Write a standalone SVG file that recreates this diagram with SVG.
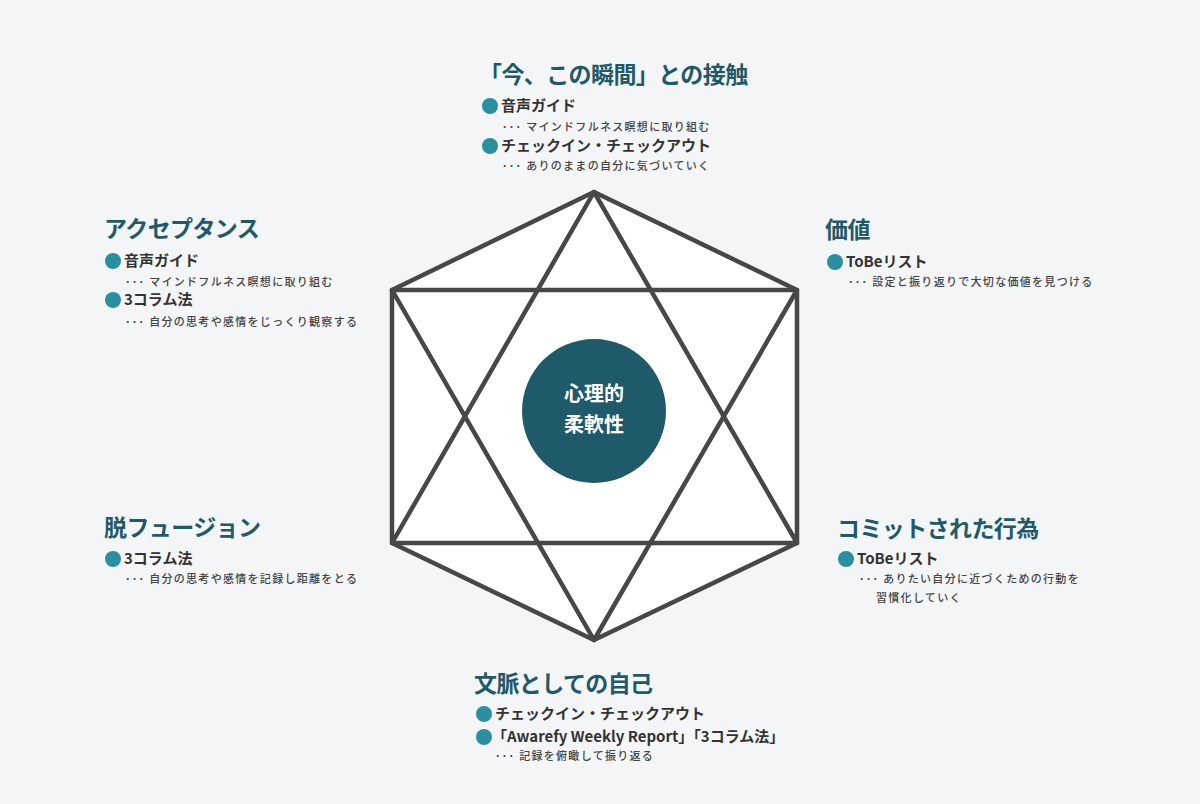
<svg xmlns="http://www.w3.org/2000/svg" width="1200" height="804" viewBox="0 0 1200 804">
<style>
text{font-family:"Noto Sans CJK JP","Noto Sans",sans-serif}
.t{font-size:23px;font-weight:700;fill:#1f5a6b;letter-spacing:-0.6px}
.i{font-size:15px;font-weight:700;fill:#333}
.s{font-size:11px;font-weight:500;fill:#444;letter-spacing:1.3px}
.b{fill:#2a8fa0}
.ln{fill:none;stroke:#474747;stroke-width:4.5;stroke-linejoin:round}
</style>
<rect width="1200" height="804" fill="#f3f5f7"/>
<g id="connectors">
<polygon class="ln" points="594,192 797,290 797,543 594,640 392,543 392,290" style="fill:#fff"/>
<polygon class="ln" points="594,192 797,543 392,543"/>
<polygon class="ln" points="594,640 392,290 797,290"/>
</g>
<g id="center"><circle cx="594" cy="411" r="72" fill="#1f5a6b"/>
<text x="594" y="401" text-anchor="middle" font-size="20" font-weight="700" fill="#fff">心理的</text>
<text x="594" y="432" text-anchor="middle" font-size="20" font-weight="700" fill="#fff">柔軟性</text></g>
<g id="now">
<text class="t" x="479" y="83">「今、この瞬間」との接触</text>
<circle class="b" cx="490" cy="106" r="8"/><text class="i" x="501" y="111">音声ガイド</text>
<text class="s" x="502" y="131">･･･ マインドフルネス瞑想に取り組む</text>
<circle class="b" cx="490" cy="146" r="8"/><text class="i" x="501" y="151">チェックイン・チェックアウト</text>
<text class="s" x="502" y="170">･･･ ありのままの自分に気づいていく</text>
</g>
<g id="acceptance">
<text class="t" x="104" y="237">アクセプタンス</text>
<circle class="b" cx="113" cy="261" r="8"/><text class="i" x="124" y="266">音声ガイド</text>
<text class="s" x="125" y="286">･･･ マインドフルネス瞑想に取り組む</text>
<circle class="b" cx="113" cy="300" r="8"/><text class="i" x="124" y="305">3コラム法</text>
<text class="s" x="125" y="326">･･･ 自分の思考や感情をじっくり観察する</text>
</g>
<g id="value">
<text class="t" x="825" y="238">価値</text>
<circle class="b" cx="835" cy="262" r="8"/><text class="i" x="846" y="267">ToBeリスト</text>
<text class="s" x="848" y="286">･･･ 設定と振り返りで大切な価値を見つける</text>
</g>
<g id="defusion">
<text class="t" x="104" y="536">脱フュージョン</text>
<circle class="b" cx="113" cy="559" r="8"/><text class="i" x="124" y="564">3コラム法</text>
<text class="s" x="125" y="583">･･･ 自分の思考や感情を記録し距離をとる</text>
</g>
<g id="commitment">
<text class="t" x="837" y="537">コミットされた行為</text>
<circle class="b" cx="846" cy="559" r="8"/><text class="i" x="857" y="564">ToBeリスト</text>
<text class="s" x="859" y="583">･･･ ありたい自分に近づくための行動を</text>
<text class="s" x="876" y="602">習慣化していく</text>
</g>
<g id="self">
<text class="t" x="474" y="692">文脈としての自己</text>
<circle class="b" cx="484" cy="714" r="8"/><text class="i" x="495" y="719">チェックイン・チェックアウト</text>
<circle class="b" cx="484" cy="737" r="8"/><text class="i" x="492" y="742">「Awarefy Weekly Report」「3コラム法」</text>
<text class="s" x="495" y="760">･･･ 記録を俯瞰して振り返る</text>
</g>
</svg>
